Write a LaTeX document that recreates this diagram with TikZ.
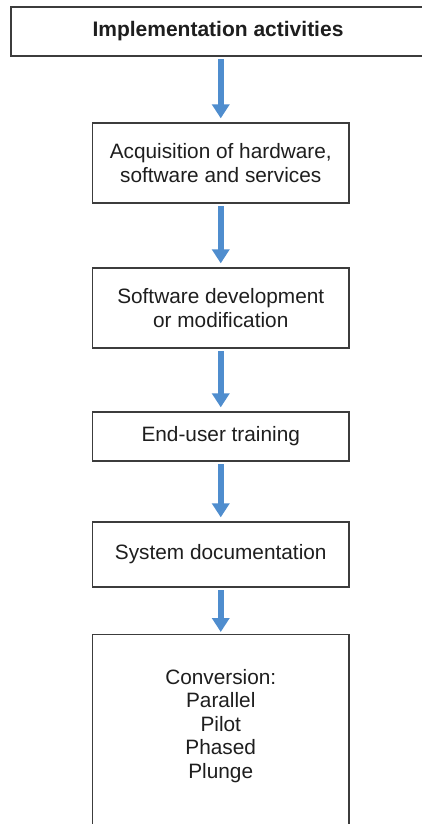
\documentclass[tikz,border=0pt]{standalone}
\usepackage{fontspec}
\setmainfont{Liberation Sans}
\usetikzlibrary{arrows.meta}
\definecolor{arrowblue}{RGB}{79,141,206}
\definecolor{boxline}{RGB}{60,60,60}
\definecolor{txt}{RGB}{30,30,30}
\begin{document}
\begin{tikzpicture}[x=1pt,y=-1pt,
  box/.style={draw=boxline, line width=1.3pt, fill=white, minimum width=256.5pt,
    align=center, inner sep=0pt, text=txt, font=\fontsize{20.8}{23.5}\selectfont},
  boxtext/.style={align=center, inner sep=0pt, text=txt, font=\fontsize{20.8}{23.5}\selectfont},
  flow/.style={draw=arrowblue, line width=6pt, -{Triangle[width=17pt,length=14pt]},
    shorten <=2.5pt, shorten >=4pt}]
\useasboundingbox (0,0) rectangle (422,824);
\fill[white] (0,0) rectangle (422,824);
\node[box, font=\bfseries\fontsize{21}{24}\selectfont, minimum width=414pt, minimum height=49pt] (top) at (218,31.5) {Implementation activities};
\node[box, minimum height=80pt] (acq) at (220.75,163) {Acquisition of hardware,\\software and services};
\node[box, minimum height=80pt] (dev) at (220.75,308) {Software development\\or modification};
\node[box, minimum height=49pt] (train) at (220.75,436.5) {End-user training};
\node[box, minimum height=65pt] (doc) at (220.75,554.5) {System documentation};
\node[box, minimum height=220pt, anchor=north] (conv) at (220.75,634) {};
\node[boxtext, anchor=north] (convtext) at (220.75,669) {Conversion:\\Parallel\\Pilot\\Phased\\Plunge};
\draw[flow] (top.south -| acq.north) -- (acq.north);
\draw[flow] (acq.south) -- (dev.north);
\draw[flow] (dev.south) -- (train.north);
\draw[flow] (train.south) -- (doc.north);
\draw[flow, shorten >=2pt] (doc.south) -- (conv.north);
\end{tikzpicture}
\end{document}
